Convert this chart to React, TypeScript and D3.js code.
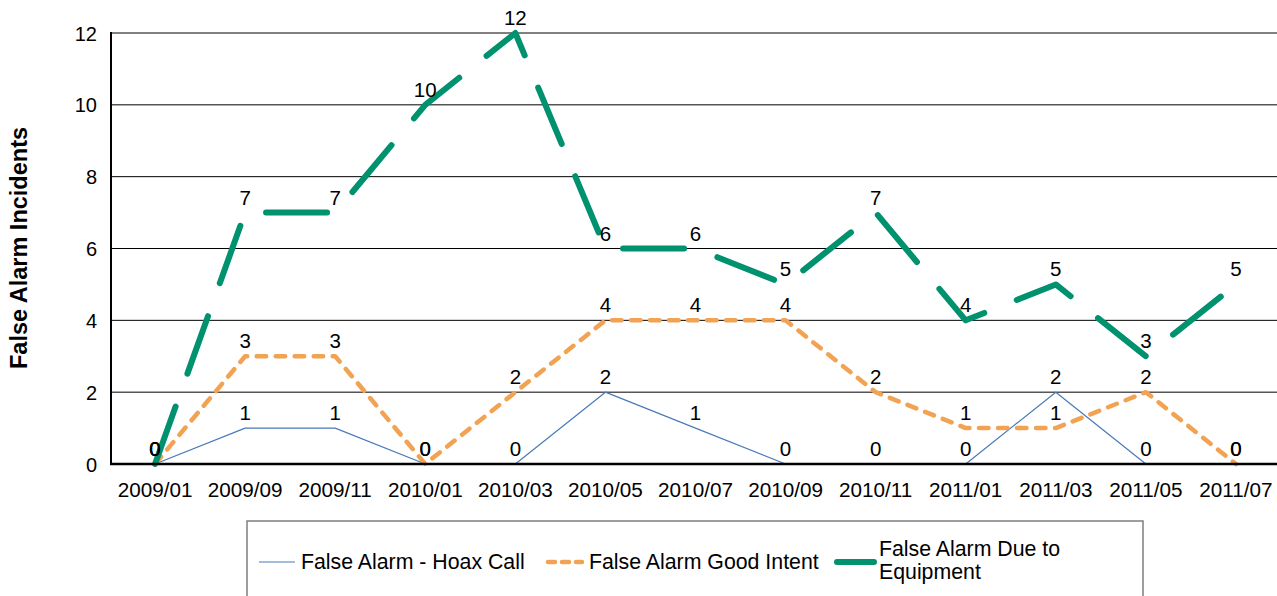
import React from 'react';
import * as d3 from 'd3';

const categories = ['2009/01', '2009/09', '2009/11', '2010/01', '2010/03', '2010/05', '2010/07', '2010/09', '2010/11', '2011/01', '2011/03', '2011/05', '2011/07'];
const hoaxCall = [0, 1, 1, 0, 0, 2, 1, 0, 0, 0, 2, 0, 0];
const goodIntent = [0, 3, 3, 0, 2, 4, 4, 4, 2, 1, 1, 2, 0];
const dueToEquipment = [0, 7, 7, 10, 12, 6, 6, 5, 7, 4, 5, 3, 5];
const yTicks = [0, 2, 4, 6, 8, 10, 12];

const W = 1277;
const H = 596;
const FONT = '"Liberation Sans", Arial, sans-serif';

const series = [
  { name: 'False Alarm - Hoax Call', values: hoaxCall, color: '#4a7ab8', width: 1.2, dash: null, cap: 'butt' },
  { name: 'False Alarm Good Intent', values: goodIntent, color: '#f2a253', width: 4.5, dash: '9.5 9.5', cap: 'round' },
  { name: 'False Alarm Due to Equipment', values: dueToEquipment, color: '#00916e', width: 6, dash: '61 35', cap: 'round' },
];

export default function App() {
  const x = d3.scaleBand<string>().domain(categories).range([110, 1281]);
  const cx = (c: string) => (x(c) as number) + x.bandwidth() / 2;
  const y = d3.scaleLinear().domain([0, 12]).range([464, 33]);

  const line = d3
    .line<number>()
    .x((d, i) => cx(categories[i]))
    .y(d => y(d));

  return (
    <svg width={W} height={H} style={{ position: 'absolute', left: 0, top: 0, background: '#fff' }} fontFamily={FONT}>
      {/* grid */}
      {yTicks.filter(t => t > 0).map(t => (
        <line key={t} x1={111} x2={W} y1={y(t)} y2={y(t)} stroke="#000" strokeWidth={1} />
      ))}
      {yTicks.map(t => (
        <text key={t} x={97} y={y(t) + 7.5} textAnchor="end" fontSize={20} fill="#000">{t}</text>
      ))}
      {categories.map(c => (
        <text key={c} x={cx(c)} y={497} textAnchor="middle" fontSize={20.7} fill="#000">{c}</text>
      ))}
      <text transform="translate(27,248) rotate(-90)" textAnchor="middle" fontSize={23.5} fontWeight="bold" fill="#000">
        False Alarm Incidents
      </text>

      {/* lines */}
      {series.map(s => (
        <path key={s.name} d={line(s.values) || ''} fill="none" stroke={s.color} strokeWidth={s.width}
          strokeDasharray={s.dash || undefined} strokeLinecap={s.cap as any} strokeLinejoin="round" />
      ))}

      {/* axes */}
      <line x1={111} x2={111} y1={32} y2={465} stroke="#000" strokeWidth={2} />
      <line x1={110} x2={W} y1={464} y2={464} stroke="#000" strokeWidth={2.5} />

      {/* labels */}
      {series.map(s => s.values.map((v, i) => (
        <text key={s.name + i} x={cx(categories[i])} y={y(v) - 8} textAnchor="middle" fontSize={20.5} fill="#000">{v}</text>
      )))}

      {/* legend */}
      <rect x={247} y={521} width={896} height={100} fill="none" stroke="#7f7f7f" strokeWidth={1.5} />
      <line x1={259} x2={295} y1={562} y2={562} stroke={series[0].color} strokeWidth={1.2} />
      <text x={301} y={569} fontSize={21.3}>{series[0].name}</text>
      <line x1={548} x2={582} y1={562} y2={562} stroke={series[1].color} strokeWidth={4.5} strokeDasharray="7 7" strokeLinecap="round" />
      <text x={589} y={569} fontSize={21.3}>{series[1].name}</text>
      <line x1={837} x2={874} y1={562} y2={562} stroke={series[2].color} strokeWidth={6} strokeLinecap="round" />
      <text x={879} y={556} fontSize={21.3}>False Alarm Due to</text>
      <text x={879} y={579} fontSize={21.3}>Equipment</text>
    </svg>
  );
}
